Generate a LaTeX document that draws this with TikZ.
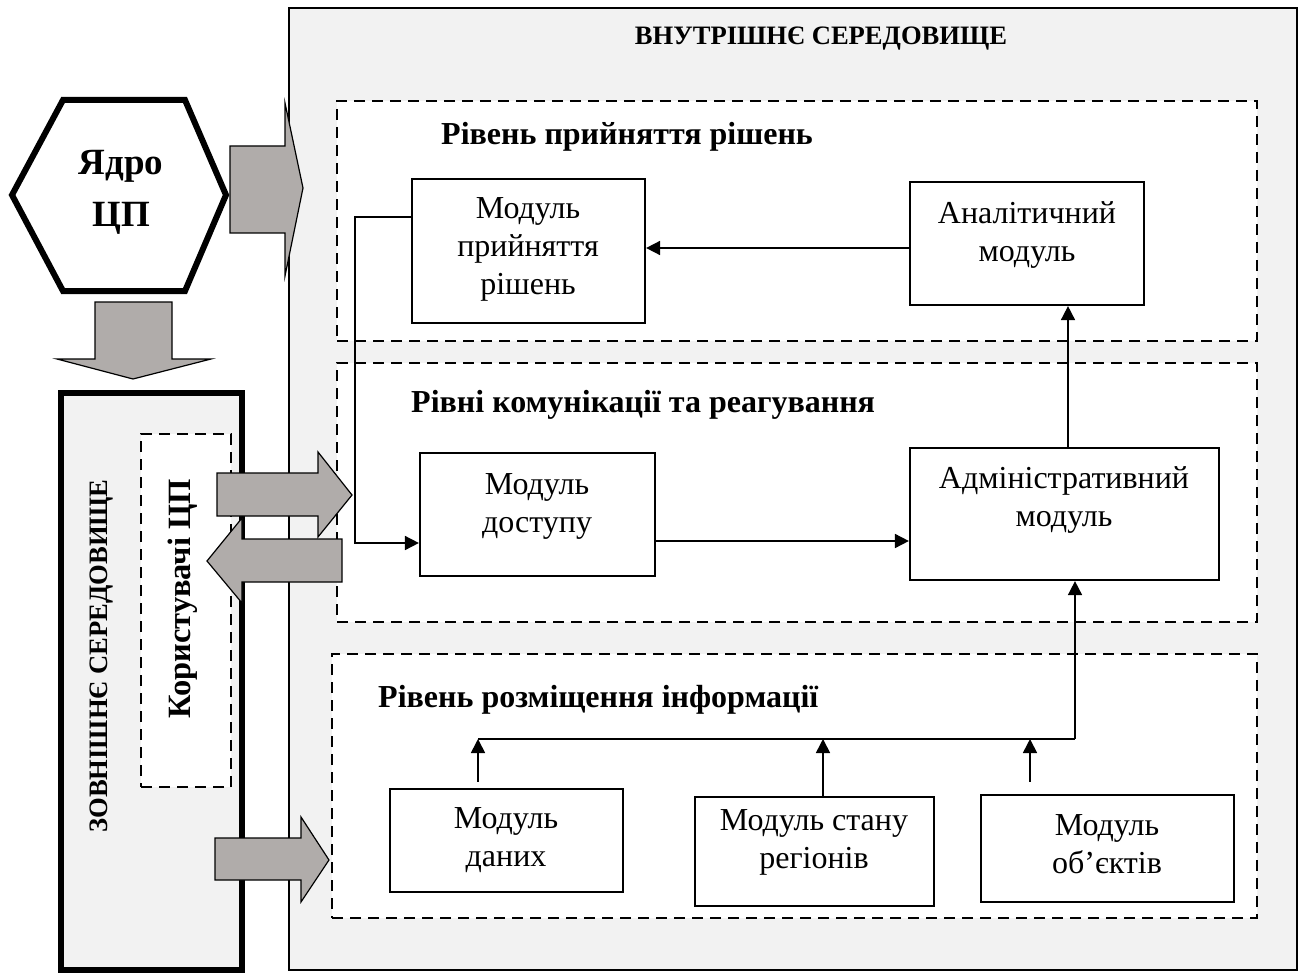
\documentclass[tikz,border=0pt]{standalone}
\usepackage{fontspec}
\setmainfont{Liberation Serif}
\usetikzlibrary{arrows.meta,shapes.geometric}
\definecolor{panelgray}{RGB}{242,242,242}
\definecolor{arrowgray}{RGB}{176,172,170}
\begin{document}
\begin{tikzpicture}[x=1pt,y=-1pt,
  panel/.style={draw, fill=panelgray, inner sep=0pt, outer sep=0pt, anchor=north west},
  lvl/.style={draw, dash pattern=on 11pt off 7pt, line width=2pt, fill=white, inner sep=0pt, anchor=north west},
  modbox/.style={draw, line width=2.2pt, fill=white, inner sep=0pt},
  body/.style={font=\fontsize{32}{38}\selectfont, align=center, inner sep=0pt},
  head/.style={font=\fontsize{32}{36}\selectfont\bfseries, anchor=base west, inner sep=0pt},
  caps/.style={font=\fontsize{26.6}{30}\selectfont\bfseries, inner sep=0pt},
  conn/.style={line width=1.7pt, -{Triangle[length=14pt,width=14pt]}},
  wire/.style={line width=1.7pt},
  bigarrow/.style={draw, line width=1.2pt, fill=arrowgray, line join=miter},
  hexline/.style={draw, line width=6pt, fill=white, line join=miter},
]
\useasboundingbox (0,0) rectangle (1305,976);
\fill[white] (0,0) rectangle (1305,976);

% containers
\node[panel, line width=1.5pt, minimum width=1008pt, minimum height=962pt] (inner) at (289,8) {};
\node[panel, line width=6pt, minimum width=181pt, minimum height=577pt] (outer) at (61,393) {};
\node[lvl, minimum width=90pt, minimum height=353pt] (users) at (140,433) {};
\node[lvl, minimum width=920pt, minimum height=240pt] (lvlA) at (336,100) {};
\node[lvl, minimum width=920pt, minimum height=259pt] (lvlB) at (336,362) {};
\node[lvl, minimum width=925pt, minimum height=264pt] (lvlC) at (331,653) {};

% titles
\node[caps, anchor=base] (innerT) at (821,45) {ВНУТРІШНЄ СЕРЕДОВИЩЕ};
\node[caps, rotate=90] (outerT) at (102,656) {ЗОВНІШНЄ СЕРЕДОВИЩЕ};
\node[font=\fontsize{32.5}{36}\selectfont\bfseries, rotate=90, inner sep=0pt] (usersT) at (183,599) {Користувачі ЦП};
\node[head] (lvlAT) at (441,145) {Рівень прийняття рішень};
\node[head] (lvlBT) at (411,412) {Рівні комунікації та реагування};
\node[head] (lvlCT) at (378,707) {Рівень розміщення інформації};

% modules
\node[modbox, minimum width=233pt, minimum height=144pt] (mPR) at (528.5,251) {};
\node[modbox, minimum width=234pt, minimum height=123pt] (mAn) at (1027,243.5) {};
\node[modbox, minimum width=235pt, minimum height=123pt] (mDos) at (537.5,514.5) {};
\node[modbox, minimum width=309pt, minimum height=132pt] (mAdm) at (1064.5,514) {};
\node[modbox, minimum width=233pt, minimum height=103pt] (mDan) at (506.5,840.5) {};
\node[modbox, minimum width=239pt, minimum height=109pt] (mSt) at (814.5,851.5) {};
\node[modbox, minimum width=253pt, minimum height=107pt] (mOb) at (1107.5,848.5) {};

\node[body] (mPRt) at (528,249) {Модуль\\прийняття\\рішень};
\node[body] (mAnt) at (1027,235) {Аналітичний\\модуль};
\node[body] (mDost) at (537,506) {Модуль\\доступу};
\node[body] (mAdmt) at (1064,500) {Адміністративний\\модуль};
\node[body] (mDant) at (506,840) {Модуль\\даних};
\node[body] (mStt) at (814,842) {Модуль стану\\регіонів};
\node[body] (mObt) at (1107,844) {Модуль\\об’єктів};

% connectors
\coordinate (rowAn) at (0,248);
\coordinate (bendA) at (355,217);
\coordinate (bendB) at (355,543);
\coordinate (rowD) at (0,541);
\coordinate (colA) at (1068,0);
\coordinate (busL) at (478,739);
\coordinate (busR) at (1075,739);
\coordinate (busM) at (823,739);
\coordinate (busO) at (1030,739);

\draw[conn] (mAn.west |- rowAn) -- (mPR.east |- rowAn);
\draw[conn] (mPR.west |- bendA) -- (bendA) -- (bendB) -- (mDos.west |- bendB);
\draw[conn] (mDos.east |- rowD) -- (mAdm.west |- rowD);
\draw[conn] (mAdm.north -| colA) -- (mAn.south -| colA);
\draw[wire] (busL) -- (busR);
\draw[conn] (busR) -- (mAdm.south -| busR);
\draw[conn, shorten <=6pt] (mDan.north -| busL) -- (busL);
\draw[conn] (mSt.north -| busM) -- (busM);
\draw[conn, shorten <=12pt] (mOb.north -| busO) -- (busO);

% core hexagon
\path[hexline] (63,100) -- (185,100) -- (226,195) -- (185,291) -- (63,291) -- (12,195) -- cycle;
\node[font=\fontsize{37}{52}\selectfont\bfseries, align=center, inner sep=0pt] (coreT) at (121,192) {Ядро\\ЦП};

% block arrows
\path[bigarrow] (230,146) -- (285,146) -- (285,103) -- (303,188) -- (285,276) -- (285,233) -- (230,233) -- cycle;
\path[bigarrow] (95,302) -- (172,302) -- (172,359) -- (211,359) -- (133,379) -- (57,359) -- (95,359) -- cycle;
\path[bigarrow] (217,473) -- (318,473) -- (318,452) -- (352,495) -- (318,537) -- (318,516) -- (217,516) -- cycle;
\path[bigarrow] (342,539) -- (242,539) -- (242,518) -- (207,561) -- (242,603) -- (242,582) -- (342,582) -- cycle;
\path[bigarrow] (215,838) -- (301,838) -- (301,817) -- (329,860) -- (301,902) -- (301,880) -- (215,880) -- cycle;
\end{tikzpicture}
\end{document}
